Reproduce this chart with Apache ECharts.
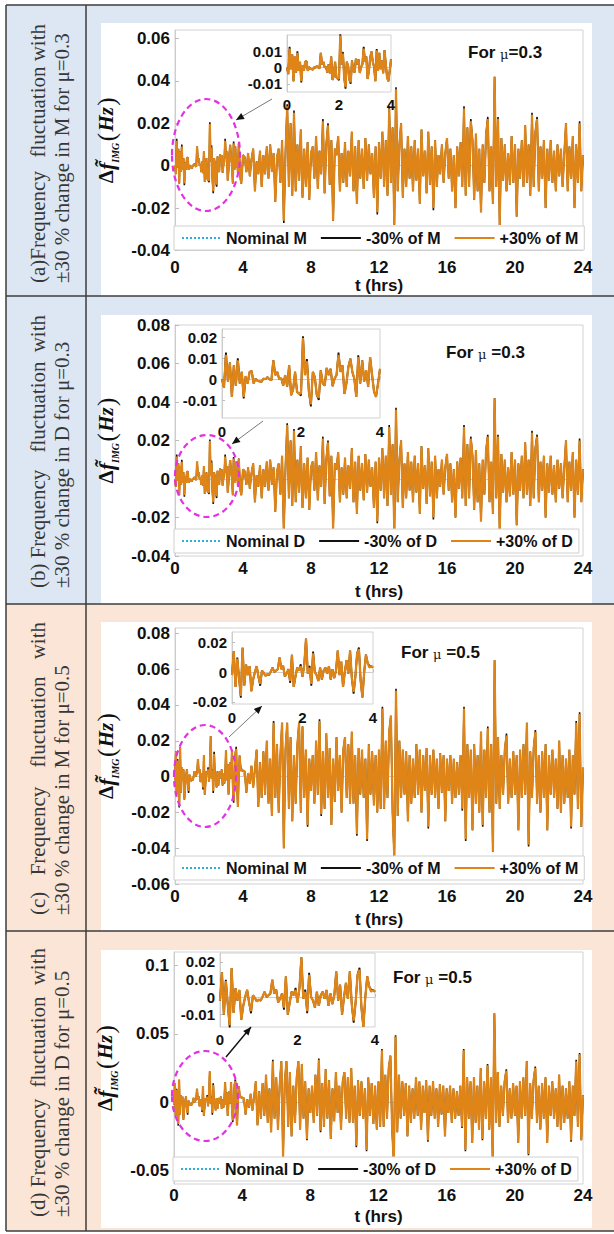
<!DOCTYPE html>
<html><head><meta charset="utf-8">
<script src="https://cdn.jsdelivr.net/npm/echarts@6/dist/echarts.min.js"></script>
<style>html,body{margin:0;padding:0;background:#fff}#c{width:614px;height:1234px}</style>
</head><body><div id="c"></div><script>
// ---------------- DATA ----------------
const INSET_STEP_HRS = 0.05;   // sample spacing 0–4 h
const MAIN_STEP_HRS = 0.1;     // sample spacing 4–24 h
const X_TICKS = [0, 4, 8, 12, 16, 20, 24];
const INSET_X_TICKS = [0, 2, 4];

// mu = 0.3  (+30% series, 0–4 h)
const insetPlusMu03 = [
  0.0000, -0.0040, 0.0117, -0.0010, 0.0080, -0.0084, 0.0067, -0.0030, 0.0090, -0.0020,
  0.0035, -0.0084, 0.0015, -0.0020, 0.0035, 0.0040, -0.0020, 0.0003, -0.0008, -0.0010,
  -0.0012, 0.0003, 0.0000, 0.0010, 0.0000, -0.0005, 0.0090, 0.0020, 0.0035, 0.0000,
  0.0005, -0.0030, 0.0020, -0.0035, 0.0067, -0.0076, -0.0050, 0.0035, -0.0060, -0.0068,
  -0.0068, 0.0197, 0.0020, 0.0086, -0.0060, -0.0120, 0.0035, 0.0010, -0.0076, -0.0089,
  0.0043, -0.0020, -0.0030, 0.0054, 0.0020, 0.0050, -0.0033, 0.0003, 0.0020, 0.0117,
  0.0035, 0.0067, -0.0070, -0.0020, 0.0060, 0.0098, 0.0035, 0.0003, -0.0084, 0.0106,
  -0.0020, 0.0090, -0.0010, 0.0043, -0.0035, 0.0106, 0.0020, -0.0060, -0.0084, -0.0020,
  0.0050
];
// mu = 0.3  (+30% series, 4.1–24 h)
const mainPlusMu03 = [
  0.004, -0.003, 0.006, -0.005, 0.003, 0.008, -0.012, 0.002, -0.004, 0.007,
  -0.010, 0.005, -0.004, 0.009, -0.006, 0.010, -0.003, 0.006, -0.017, 0.004,
  0.008, -0.008, 0.012, -0.026, 0.006, 0.028, -0.010, 0.020, -0.014, 0.025,
  -0.012, 0.010, -0.007, 0.017, -0.015, 0.008, -0.010, 0.011, -0.016, 0.006,
  0.009, -0.006, 0.014, -0.011, 0.007, -0.004, 0.021, -0.013, 0.010, 0.019,
  -0.009, 0.012, -0.026, 0.008, 0.005, 0.014, -0.012, 0.006, -0.008, 0.011,
  -0.010, 0.007, -0.005, 0.016, -0.012, 0.009, -0.018, 0.012, -0.006, 0.008,
  -0.011, 0.013, -0.007, 0.010, -0.004, 0.006, -0.015, 0.009, -0.022, 0.011,
  -0.006, 0.016, -0.010, 0.012, -0.014, 0.027, -0.008, 0.018, -0.028, 0.036,
  -0.012, 0.010, 0.020, -0.015, 0.008, -0.010, 0.014, -0.006, 0.009, -0.012,
  0.012, -0.007, 0.008, -0.018, 0.017, -0.005, 0.007, -0.013, 0.016, -0.009,
  0.009, -0.020, 0.012, -0.010, 0.005, -0.004, 0.010, -0.008, 0.006, 0.013,
  -0.006, 0.008, -0.012, 0.005, -0.020, 0.009, -0.005, 0.011, -0.010, 0.027,
  -0.014, 0.018, -0.010, 0.021, 0.012, -0.016, 0.015, -0.012, 0.008, -0.022,
  0.010, -0.008, 0.015, 0.022, -0.012, 0.009, -0.018, 0.042, -0.010, 0.022,
  -0.028, 0.013, -0.007, 0.010, -0.012, 0.006, -0.009, 0.014, -0.008, 0.010,
  -0.024, 0.008, -0.006, 0.012, -0.010, 0.019, -0.008, 0.010, -0.014, 0.024,
  -0.010, 0.016, 0.022, -0.012, 0.009, -0.006, 0.012, -0.020, 0.008, -0.007,
  0.012, -0.008, 0.007, -0.012, 0.010, -0.005, 0.008, -0.010, 0.006, 0.020,
  -0.012, 0.009, -0.006, 0.014, -0.020, 0.010, -0.008, 0.020, -0.012, 0.005
];
// mu = 0.3  (-30% series: peaks where it shows beyond the +30% line) [t hrs, value]
const minusTipsMu03 = [
  [0.10, 0.0127], [0.40, 0.0100], [0.55, -0.0092], [2.00, -0.0078], [2.05, 0.0205],
  [2.15, 0.0096], [2.25, -0.0130], [2.45, -0.0099], [2.95, 0.0127], [3.45, 0.0114],
  [6.4, -0.027], [6.6, 0.029], [7.0, 0.026], [8.7, 0.022], [9.0, 0.020],
  [11.9, -0.023], [12.6, 0.028], [13.0, 0.037], [15.2, -0.021], [17.0, 0.028],
  [17.4, 0.022], [18.4, 0.023], [19.0, 0.023], [21.0, 0.025], [21.3, 0.023], [23.8, 0.021]
];

// mu = 0.5  (+30% series, 0–4 h)
const insetPlusMu05 = [
  -0.0020, 0.0140, -0.0100, 0.0090, -0.0040, -0.0160, 0.0164, -0.0090, 0.0050, -0.0020,
  0.0040, -0.0128, -0.0050, 0.0000, 0.0040, -0.0030, -0.0080, 0.0010, -0.0005, -0.0025,
  -0.0015, -0.0020, 0.0003, 0.0030, 0.0000, 0.0010, 0.0020, 0.0098, 0.0020, 0.0042,
  -0.0030, -0.0010, 0.0020, -0.0060, 0.0117, -0.0100, -0.0030, 0.0030, 0.0010, 0.0040,
  -0.0030, 0.0050, 0.0225, -0.0010, 0.0030, -0.0080, 0.0126, 0.0000, -0.0020, -0.0060,
  0.0030, -0.0050, 0.0010, 0.0030, -0.0010, 0.0040, -0.0050, 0.0020, -0.0040, 0.0010,
  0.0145, -0.0020, 0.0070, -0.0100, 0.0000, 0.0080, -0.0010, 0.0145, -0.0040, -0.0134,
  -0.0030, 0.0126, 0.0155, -0.0060, -0.0170, 0.0000, 0.0117, 0.0060, 0.0030, 0.0040,
  0.0030
];
// mu = 0.5  (+30% series, 4.1–24 h)
const mainPlusMu05 = [
  0.003, -0.009, 0.002, -0.004, 0.006, -0.006, 0.004, 0.015, -0.017, 0.008,
  -0.012, 0.014, -0.010, 0.020, -0.015, 0.010, -0.022, 0.030, -0.012, 0.018,
  -0.020, 0.012, 0.030, -0.040, 0.015, 0.030, -0.018, 0.022, -0.025, 0.012,
  -0.015, 0.018, 0.030, -0.020, 0.028, -0.012, 0.015, -0.027, 0.010, -0.008,
  0.012, -0.015, 0.020, -0.010, 0.031, -0.021, 0.014, -0.018, 0.024, -0.012,
  0.016, -0.027, 0.010, -0.014, 0.022, -0.008, 0.012, -0.020, 0.015, 0.022,
  -0.012, 0.018, -0.015, 0.025, -0.015, 0.012, -0.032, 0.016, -0.010, 0.015,
  -0.012, 0.010, -0.035, 0.018, -0.010, 0.014, -0.016, 0.012, -0.020, 0.015,
  -0.018, 0.038, -0.018, 0.020, -0.012, 0.025, 0.034, -0.020, -0.045, 0.048,
  -0.022, 0.020, -0.012, 0.015, -0.010, 0.014, -0.025, 0.012, -0.015, 0.010,
  -0.012, 0.018, -0.010, 0.015, -0.020, 0.012, -0.008, 0.016, -0.028, 0.012,
  -0.010, 0.015, -0.012, 0.010, -0.018, 0.013, -0.009, 0.012, -0.025, 0.010,
  -0.008, 0.012, -0.015, 0.010, -0.012, 0.008, -0.010, 0.012, -0.018, 0.038,
  -0.035, 0.018, -0.012, 0.015, -0.030, 0.018, -0.015, 0.012, -0.020, 0.025,
  -0.027, 0.015, -0.012, 0.027, -0.020, 0.018, -0.042, 0.065, -0.015, 0.022,
  -0.018, 0.012, -0.010, 0.015, 0.023, -0.015, 0.010, -0.012, 0.014, -0.010,
  0.012, -0.030, 0.015, -0.012, 0.018, -0.010, 0.030, -0.038, 0.014, -0.012,
  0.016, 0.025, -0.015, 0.012, -0.020, 0.014, -0.012, 0.018, -0.030, 0.012,
  -0.010, 0.015, -0.012, 0.010, -0.018, 0.020, -0.020, 0.012, -0.015, 0.010,
  -0.012, 0.015, -0.028, 0.012, -0.010, 0.030, -0.018, 0.035, -0.028, 0.005
];
// mu = 0.5  (-30% series tips) [t hrs, value]
const minusTipsMu05 = [
  [0.15, 0.0098], [0.25, -0.0172], [0.80, -0.0092], [1.65, -0.0072], [1.95, 0.0052],
  [2.20, 0.0042], [2.25, -0.0092], [2.30, 0.0138], [3.45, -0.0146], [3.60, 0.0166], [3.90, 0.0042],
  [5.8, 0.031], [7.8, -0.028], [8.5, 0.032], [8.6, -0.022], [10.7, -0.033], [11.3, -0.036],
  [12.2, 0.039], [13.0, 0.049], [14.9, -0.029], [16.9, -0.019], [17.0, 0.039], [17.1, -0.036],
  [18.1, -0.028], [18.4, 0.028], [19.5, 0.024], [20.8, -0.039], [21.2, 0.026],
  [23.3, -0.029], [23.6, 0.031], [23.8, 0.036]
];

// axis tick values
const yTicksA = [-0.04, -0.02, 0, 0.02, 0.04, 0.06];
const yTicksB = [-0.04, -0.02, 0, 0.02, 0.04, 0.06, 0.08];
const yTicksC = [-0.06, -0.04, -0.02, 0, 0.02, 0.04, 0.06, 0.08];
const yTicksD = [-0.05, 0, 0.05, 0.1];
const insetYTicksA = [-0.01, 0, 0.01];
const insetYTicksB = [-0.01, 0, 0.01, 0.02];
const insetYTicksC = [-0.02, 0, 0.02];
const insetYTicksD = [-0.01, 0, 0.01, 0.02];

const legendNamesM = ['Nominal M', '-30% of M', '+30% of M'];
const legendNamesD = ['Nominal D', '-30% of D', '+30% of D'];

// ---------------- BUILD ----------------
function timeKey(t) { return t.toFixed(2); }
function joinSamples(inset, main) {
  const pts = inset.map((v, i) => [+(i * INSET_STEP_HRS).toFixed(2), v]);
  const start = (inset.length - 1) * INSET_STEP_HRS;
  main.forEach((v, j) => pts.push([+(start + (j + 1) * MAIN_STEP_HRS).toFixed(2), v]));
  return pts;
}
function withTips(pts, tips) {
  const m = new Map(tips.map(p => [timeKey(p[0]), p[1]]));
  return pts.map(p => [p[0], m.has(timeKey(p[0])) ? m.get(timeKey(p[0])) : p[1]]);
}
const insetOnly = pts => pts.filter(p => p[0] <= 4.0001);

const plus03 = joinSamples(insetPlusMu03, mainPlusMu03);
const minus03 = withTips(plus03, minusTipsMu03);
const plus05 = joinSamples(insetPlusMu05, mainPlusMu05);
const minus05 = withTips(plus05, minusTipsMu05);

const FONT_SANS = "'Liberation Sans', Arial, Helvetica, sans-serif";
const FONT_SERIF = "'Liberation Serif', 'Times New Roman', serif";
const ORANGE = '#DF8518', BLACK = '#111111', CYAN = '#29B2D6', MAGENTA = '#E232E2';
const BLUE_BG = '#DDE7F3', PEACH_BG = '#FBE5D6', RULE = '#3d3d3d';
let DOT_ICON = 'path://';
for (let k = 0; k < 10; k++) DOT_ICON += 'M' + (k * 4) + ',0h2v2h-2z';

const panels = [
  { names: legendNamesM, plus: plus03, minus: minus03, cell: [5, 296], bg: BLUE_BG,
    white: [101, 23, 491, 273],
    grid: { left: 175, top: 30, width: 408, height: 220.5 }, y: [-0.04, 0.064], yTicks: yTicksA,
    xMargin: 8, xNameGap: 26,
    inset: { left: 287, top: 35, width: 104, height: 57 }, iy: [-0.015, 0.02], iyTicks: insetYTicksA, ixMargin: 5,
    legendTop: 226, forPos: [468, 52], forText: '{b|For }{m|μ}{b|=0.3}',
    ellipse: [206, 155, 34, 56], arrow: [272, 99, 236, 120, '#777', 1],
    line1: [['(a)Frequency', 283, 'left'], ['fluctuation', 112, 'center'], ['with', 24, 'right']],
    line2: ['±30 % change in M for μ=0.3', 283] },
  { names: legendNamesD, plus: plus03, minus: minus03, cell: [296, 604], bg: BLUE_BG,
    white: [101, 315, 491, 289],
    grid: { left: 175, top: 325, width: 408, height: 231 }, y: [-0.04, 0.08], yTicks: yTicksB,
    xMargin: 4, xNameGap: 27,
    inset: { left: 222, top: 329, width: 158, height: 89 }, iy: [-0.0185, 0.024], iyTicks: insetYTicksB, ixMargin: 6,
    legendTop: 529, forPos: [446, 352], forText: '{b|For }{m|μ}{b| =0.3}',
    ellipse: [207, 476, 32, 41], arrow: [263, 421, 232, 444, '#777', 1],
    line1: [['(b)', 588, 'left'], ['Frequency', 514, 'center'], ['fluctuation', 407, 'center'], ['with', 315, 'right']],
    line2: ['±30 % change in D for μ=0.3', 588] },
  { names: legendNamesM, plus: plus05, minus: minus05, cell: [604, 931], bg: PEACH_BG,
    white: [101, 622, 491, 309],
    grid: { left: 175, top: 628, width: 408, height: 256 }, y: [-0.06, 0.083], yTicks: yTicksC,
    xMargin: 4, xNameGap: 27,
    inset: { left: 232, top: 632, width: 141, height: 72 }, iy: [-0.0215, 0.027], iyTicks: insetYTicksC, ixMargin: 6,
    legendTop: 856, forPos: [401, 652], forText: '{b|For }{m|μ}{b| =0.5}',
    ellipse: [205, 776, 31, 51], arrow: [229, 737, 262, 706, '#777', 1],
    line1: [['(c)', 915, 'left'], ['Frequency', 831, 'center'], ['fluctuation', 722, 'center'], ['with', 622, 'right']],
    line2: ['±30 % change in M for μ=0.5', 915] },
  { names: legendNamesD, plus: plus05, minus: minus05, cell: [931, 1231], bg: PEACH_BG,
    white: [101, 950, 491, 278],
    grid: { left: 174, top: 952, width: 409, height: 232 }, y: [-0.06, 0.11], yTicks: yTicksD,
    xMargin: 3, xNameGap: 24,
    inset: { left: 220, top: 953, width: 155, height: 74 }, iy: [-0.017, 0.025], iyTicks: insetYTicksD, ixMargin: 5,
    legendTop: 1157, forPos: [393, 977], forText: '{b|For }{m|μ}{b| =0.5}',
    ellipse: [205, 1096, 33, 45], arrow: [226, 1057, 251, 1027, '#111', 1.4],
    line1: [['(d) Frequency', 1217, 'left'], ['fluctuation', 1042, 'center'], ['with', 948, 'right']],
    line2: ['±30 % change in D for μ=0.5', 1217] }
];

const grids = [], xAxes = [], yAxes = [], series = [], legends = [], graphics = [];
const axisLineStyle = { color: '#cdcdcd', width: 1 };
const yName = '{d|Δ}{f|f\u0303}{s|IMG}{g| }{p|(}{g| }{h|Hz}{g| }{p|)}';
const yNameRich = {
  d: { fontFamily: FONT_SERIF, fontSize: 21, fontWeight: 'bold', color: '#111', lineHeight: 28 },
  f: { fontFamily: FONT_SERIF, fontSize: 22, fontWeight: 'bold', fontStyle: 'italic', color: '#111', lineHeight: 28 },
  s: { fontFamily: FONT_SERIF, fontSize: 10, fontWeight: 'bold', fontStyle: 'italic', color: '#111', verticalAlign: 'bottom', lineHeight: 12 },
  g: { fontSize: 5, lineHeight: 28 },
  p: { fontFamily: FONT_SERIF, fontSize: 25, color: '#111', lineHeight: 28 },
  h: { fontFamily: FONT_SERIF, fontSize: 21, fontWeight: 'bold', fontStyle: 'italic', color: '#111', lineHeight: 28 }
};

function arrowHead(x1, y1, x2, y2, len, half) {
  const dx = x2 - x1, dy = y2 - y1, L = Math.hypot(dx, dy), ux = dx / L, uy = dy / L;
  const bx = x2 - ux * len, by = y2 - uy * len;
  return [[x2, y2], [bx - uy * half, by + ux * half], [bx + uy * half, by - ux * half]];
}

panels.forEach((p, k) => {
  const gMain = grids.length;
  grids.push(Object.assign({ show: true, backgroundColor: 'transparent', borderColor: '#d2d2d2', borderWidth: 1, z: 0 }, p.grid));
  const gIn = grids.length;
  grids.push(Object.assign({ show: true, backgroundColor: '#ffffff', borderColor: '#d2d2d2', borderWidth: 1, z: 6 }, p.inset));

  xAxes.push({
    gridIndex: gMain, type: 'value', min: 0, max: 24, interval: 4, z: 1,
    axisLine: { show: true, lineStyle: axisLineStyle },
    axisTick: { show: true, inside: true, length: 4, customValues: X_TICKS, lineStyle: { color: '#bdbdbd' } },
    axisLabel: { customValues: X_TICKS, margin: p.xMargin, color: '#111', fontFamily: FONT_SANS, fontWeight: 'bold', fontSize: 17 },
    splitLine: { show: false },
    name: 't (hrs)', nameLocation: 'middle', nameGap: p.xNameGap,
    nameTextStyle: { color: '#111', fontFamily: FONT_SANS, fontWeight: 'bold', fontSize: 17 }
  });
  yAxes.push({
    gridIndex: gMain, type: 'value', min: p.y[0], max: p.y[1], z: 1,
    axisLine: { show: true, lineStyle: axisLineStyle },
    axisTick: { show: true, inside: true, length: 4, customValues: p.yTicks, lineStyle: { color: '#bdbdbd' } },
    axisLabel: { customValues: p.yTicks, margin: 5, color: '#111', fontFamily: FONT_SANS, fontWeight: 'bold', fontSize: 17 },
    splitLine: { show: false },
    name: yName, nameLocation: 'middle', nameGap: 44, nameRotate: 90,
    nameTextStyle: { rich: yNameRich }
  });
  xAxes.push({
    gridIndex: gIn, type: 'value', min: 0, max: 4, interval: 2, z: 7,
    axisLine: { show: true, lineStyle: axisLineStyle },
    axisTick: { show: true, inside: true, length: 3, customValues: INSET_X_TICKS, lineStyle: { color: '#bdbdbd' } },
    axisLabel: { customValues: INSET_X_TICKS, margin: p.ixMargin, color: '#111', fontFamily: FONT_SANS, fontWeight: 'bold', fontSize: 15 },
    splitLine: { show: false }
  });
  yAxes.push({
    gridIndex: gIn, type: 'value', min: p.iy[0], max: p.iy[1], z: 7,
    axisLine: { show: true, lineStyle: axisLineStyle },
    axisTick: { show: true, inside: true, length: 3, customValues: p.iyTicks, lineStyle: { color: '#bdbdbd' } },
    axisLabel: { customValues: p.iyTicks, margin: 5, color: '#111', fontFamily: FONT_SANS, fontWeight: 'bold', fontSize: 15 },
    splitLine: { show: false }
  });

  const common = { type: 'line', showSymbol: false, symbol: 'none', animation: false, silent: true };
  // main plot
  series.push(Object.assign({}, common, { name: p.names[0], xAxisIndex: gMain, yAxisIndex: gMain, z: 2,
    data: p.plus, lineStyle: { color: CYAN, width: 1.2, type: 'dotted' }, itemStyle: { color: CYAN } }));
  series.push(Object.assign({}, common, { name: p.names[1], xAxisIndex: gMain, yAxisIndex: gMain, z: 3,
    data: p.minus, lineStyle: { color: BLACK, width: 1.6 }, itemStyle: { color: BLACK } }));
  series.push(Object.assign({}, common, { name: p.names[2], xAxisIndex: gMain, yAxisIndex: gMain, z: 4,
    data: p.plus, lineStyle: { color: ORANGE, width: 2.2 }, itemStyle: { color: ORANGE } }));
  // inset
  series.push(Object.assign({}, common, { name: p.names[0], xAxisIndex: gIn, yAxisIndex: gIn, z: 8,
    data: insetOnly(p.plus), lineStyle: { color: CYAN, width: 1.2, type: 'dotted' }, itemStyle: { color: CYAN } }));
  series.push(Object.assign({}, common, { name: p.names[1], xAxisIndex: gIn, yAxisIndex: gIn, z: 9,
    data: insetOnly(p.minus), lineStyle: { color: BLACK, width: 1.8 }, itemStyle: { color: BLACK } }));
  series.push(Object.assign({}, common, { name: p.names[2], xAxisIndex: gIn, yAxisIndex: gIn, z: 10,
    data: insetOnly(p.plus), lineStyle: { color: ORANGE, width: 2.3 }, itemStyle: { color: ORANGE } }));

  legends.push({
    selectedMode: false, z: 5, left: p.grid.left - 1, top: p.legendTop, orient: 'horizontal',
    itemWidth: 40, itemHeight: 2, itemGap: 14, padding: [4, 6, 4, 8],
    backgroundColor: '#ffffff', borderColor: '#d0d0d0', borderWidth: 1,
    itemStyle: { borderWidth: 0 },
    textStyle: { fontFamily: FONT_SANS, fontWeight: 'bold', fontSize: 16, color: '#111' },
    data: [{ name: p.names[0], icon: DOT_ICON }, { name: p.names[1], icon: 'rect' }, { name: p.names[2], icon: 'rect' }]
  });

  // cell background + white figure background
  graphics.push({ type: 'rect', z: -20, silent: true, shape: { x: 6, y: p.cell[0], width: 608, height: p.cell[1] - p.cell[0] }, style: { fill: p.bg } });
  graphics.push({ type: 'rect', z: -10, silent: true, shape: { x: p.white[0], y: p.white[1], width: p.white[2], height: p.white[3] }, style: { fill: '#ffffff' } });
  // "For mu" annotation
  graphics.push({ type: 'text', z: 20, x: p.forPos[0], y: p.forPos[1], style: {
    text: p.forText, align: 'left', verticalAlign: 'middle',
    rich: {
      b: { fontFamily: FONT_SANS, fontWeight: 'bold', fontSize: 17, fill: '#111' },
      m: { fontFamily: "'DejaVu Serif', serif", fontSize: 13, fill: '#222', padding: [5, 0, 0, 0] }
    } } });
  // zoom ellipse
  graphics.push({ type: 'ellipse', z: 20, silent: true, shape: { cx: p.ellipse[0], cy: p.ellipse[1], rx: p.ellipse[2], ry: p.ellipse[3] },
    style: { fill: 'none', stroke: MAGENTA, lineWidth: 2.2, lineDash: [6, 4] } });
  // arrow
  const a = p.arrow;
  graphics.push({ type: 'line', z: 20, silent: true, shape: { x1: a[0], y1: a[1], x2: a[2], y2: a[3] }, style: { stroke: a[4], lineWidth: a[5] } });
  graphics.push({ type: 'polygon', z: 20, silent: true, shape: { points: arrowHead(a[0], a[1], a[2], a[3], 8, 3.5) }, style: { fill: '#111' } });
  // left-column labels (rotated, reading bottom to top)
  p.line1.forEach(w => graphics.push({ type: 'text', z: 20, x: 38, y: w[1], rotation: Math.PI / 2, style: {
    text: w[0], align: w[2], verticalAlign: 'middle', fontFamily: FONT_SERIF, fontSize: 21, fill: '#383838' } }));
  graphics.push({ type: 'text', z: 20, x: 62, y: p.line2[1], rotation: Math.PI / 2, style: {
    text: p.line2[0], align: 'left', verticalAlign: 'middle', fontFamily: FONT_SERIF, fontSize: 21, fill: '#383838' } });
});

// table rules
[5, 296, 604, 931, 1231].forEach(y => graphics.push({ type: 'line', z: 30, silent: true,
  shape: { x1: 6, y1: y, x2: 614, y2: y }, style: { stroke: RULE, lineWidth: 1.5 } }));
[6, 86].forEach(x => graphics.push({ type: 'line', z: 30, silent: true,
  shape: { x1: x, y1: 5, x2: x, y2: 1231 }, style: { stroke: RULE, lineWidth: 1.5 } }));

const chart = echarts.init(document.getElementById('c'), null, { renderer: 'svg', width: 614, height: 1234 });
chart.setOption({
  animation: false,
  backgroundColor: '#ffffff',
  grid: grids, xAxis: xAxes, yAxis: yAxes, series: series, legend: legends, graphic: graphics
});
</script></body></html>
